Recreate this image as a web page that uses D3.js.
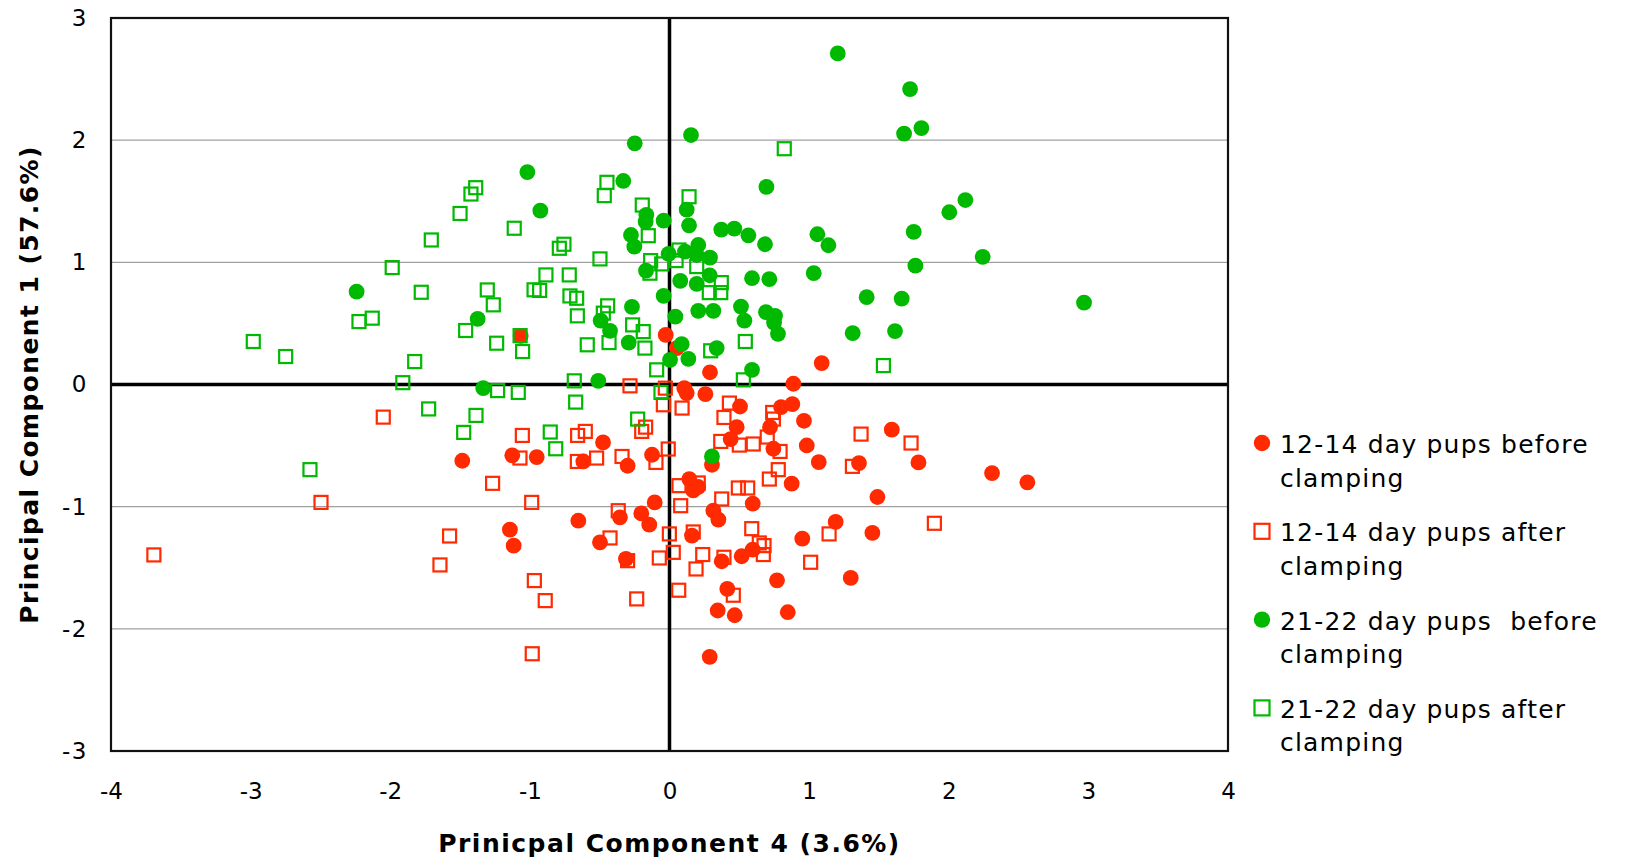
<!DOCTYPE html>
<html>
<head>
<meta charset="utf-8">
<script src="https://cdn.jsdelivr.net/npm/d3@7"></script>
<style>
  html, body { margin: 0; padding: 0; background: #fff; }
  svg { display: block; }
  text { font-family: "DejaVu Sans", Verdana, sans-serif; fill: #000; }
</style>
</head>
<body>
<svg id="chart" width="1625" height="863"></svg>
<script>
// PCA scores: [PC4, PC1] per animal
const pups1214Before = [
  [-1.066, 0.398], [-0.027, 0.406], [0.052, 0.298], [0.29, 0.10], [1.09, 0.175],
  [0.106, -0.03], [0.123, -0.07], [0.257, -0.079], [0.887, 0.006], [0.505, -0.18],
  [0.799, -0.185], [0.88, -0.16], [0.963, -0.297], [0.72, -0.349], [0.481, -0.349],
  [0.438, -0.447], [0.744, -0.526], [0.983, -0.499], [1.069, -0.635], [1.357, -0.643],
  [0.304, -0.657], [-0.125, -0.575], [-0.3, -0.665], [-0.476, -0.474], [-1.126, -0.58],
  [-0.951, -0.594], [-0.617, -0.63], [-1.484, -0.624], [-1.143, -1.188], [-1.116, -1.319],
  [-0.653, -1.115], [-0.498, -1.292], [-0.355, -1.087], [-0.202, -1.055], [-0.145, -1.147],
  [-0.106, -0.965], [-0.312, -1.428], [0.142, -0.774], [0.17, -0.867], [0.206, -0.839],
  [0.314, -1.033], [0.35, -1.106], [0.596, -0.975], [0.875, -0.812], [0.161, -1.237],
  [0.374, -1.447], [0.517, -1.406], [0.596, -1.352], [0.951, -1.262], [1.19, -1.125],
  [1.489, -0.921], [1.453, -1.215], [0.77, -1.603], [1.298, -1.583], [0.414, -1.673],
  [0.345, -1.85], [0.467, -1.889], [0.847, -1.864], [0.288, -2.229], [1.592, -0.37],
  [1.783, -0.638], [2.31, -0.725], [2.563, -0.801]
];
const pups1214After = [
  [-2.05, -0.267], [-1.267, -0.809], [-2.496, -0.965], [-3.693, -1.395], [-1.575, -1.24],
  [-1.644, -1.477], [-0.283, -0.011], [-0.03, -0.03], [-0.044, -0.166], [0.09, -0.193],
  [0.429, -0.152], [0.39, -0.27], [0.739, -0.229], [0.744, -0.283], [0.7, -0.43],
  [0.367, -0.466], [0.5, -0.496], [0.6, -0.487], [0.792, -0.548], [1.372, -0.406],
  [1.31, -0.67], [-0.009, -0.528], [-0.097, -0.638], [-0.34, -0.589], [-0.658, -0.417],
  [-0.603, -0.384], [-1.054, -0.417], [-1.071, -0.602], [-0.66, -0.63], [-0.522, -0.602],
  [-0.199, -0.384], [-0.171, -0.349], [-0.987, -0.965], [-0.426, -1.256], [-0.367, -1.033],
  [-0.3, -1.442], [-0.073, -1.42], [0.027, -1.374], [-0.968, -1.605], [-0.89, -1.769],
  [-0.235, -1.755], [-0.983, -2.204], [0.066, -1.684], [0.068, -0.828], [0.206, -0.806],
  [0.08, -0.992], [0.374, -0.937], [0.493, -0.847], [0.56, -0.847], [0.715, -0.774],
  [0.779, -0.697], [-0.001, -1.223], [0.17, -1.207], [0.238, -1.392], [0.19, -1.51],
  [0.39, -1.414], [0.589, -1.18], [0.643, -1.297], [0.677, -1.319], [0.672, -1.392],
  [1.143, -1.223], [1.011, -1.455], [0.457, -1.725], [1.73, -0.479], [1.897, -1.136]
];
const pups2122Before = [
  [-2.241, 0.76], [-1.374, 0.537], [-1.334, -0.03], [1.205, 2.71], [0.154, 2.042],
  [-0.249, 1.974], [-1.018, 1.739], [-0.331, 1.666], [0.694, 1.617], [-0.925, 1.423],
  [0.123, 1.431], [-0.166, 1.388], [-0.171, 1.333], [-0.042, 1.341], [0.14, 1.303],
  [0.371, 1.268], [0.464, 1.276], [0.565, 1.221], [1.059, 1.23], [1.138, 1.14],
  [0.684, 1.148], [-0.276, 1.224], [-0.252, 1.128], [-0.006, 1.069], [0.111, 1.088],
  [0.206, 1.142], [0.195, 1.06], [0.29, 1.039], [-0.168, 0.932], [0.077, 0.848],
  [0.195, 0.823], [0.288, 0.894], [0.591, 0.87], [0.715, 0.862], [1.033, 0.911],
  [1.412, 0.715], [1.312, 0.42], [-0.269, 0.635], [-0.493, 0.523], [-0.426, 0.439],
  [-0.292, 0.343], [-0.042, 0.725], [0.042, 0.556], [0.206, 0.603], [0.314, 0.603],
  [0.512, 0.638], [0.536, 0.523], [0.691, 0.592], [0.756, 0.562], [0.749, 0.507],
  [0.777, 0.415], [0.338, 0.298], [0.087, 0.33], [0.004, 0.202], [0.135, 0.21],
  [0.591, 0.12], [-0.51, 0.03], [1.723, 2.418], [1.804, 2.099], [1.68, 2.053],
  [2.119, 1.51], [2.004, 1.41], [1.749, 1.249], [2.243, 1.044], [1.761, 0.973],
  [1.663, 0.703], [2.969, 0.67], [1.615, 0.437], [0.304, -0.589]
];
const pups2122After = [
  [-1.388, 1.611], [-1.422, 1.559], [-1.50, 1.40], [-1.706, 1.183], [-1.986, 0.957],
  [-1.778, 0.755], [-1.305, 0.774], [-1.262, 0.652], [-1.46, 0.442], [-1.238, 0.338],
  [-2.129, 0.543], [-2.224, 0.515], [-2.981, 0.352], [-2.749, 0.229], [-1.825, 0.188],
  [-1.91, 0.015], [-1.231, -0.05], [-1.725, -0.2], [-1.386, -0.253], [-1.474, -0.392],
  [-2.575, -0.697], [0.822, 1.93], [-0.448, 1.655], [-0.467, 1.546], [0.14, 1.537],
  [-0.195, 1.469], [-1.112, 1.279], [-0.152, 1.218], [-0.789, 1.115], [-0.756, 1.148],
  [0.068, 1.101], [-0.498, 1.028], [-0.135, 1.014], [-0.056, 0.987], [0.047, 1.014],
  [-0.14, 0.911], [0.195, 0.965], [0.371, 0.834], [0.285, 0.752], [0.367, 0.752],
  [-0.885, 0.897], [-0.718, 0.897], [-0.97, 0.775], [-0.93, 0.77], [-0.713, 0.725],
  [-0.665, 0.706], [-0.66, 0.562], [-0.443, 0.644], [-0.474, 0.584], [-0.264, 0.488],
  [-0.188, 0.433], [-0.433, 0.343], [-0.176, 0.298], [-1.052, 0.27], [-1.07, 0.40],
  [-0.589, 0.325], [0.543, 0.352], [0.295, 0.276], [-0.092, 0.12], [-0.682, 0.03],
  [0.529, 0.038], [1.532, 0.155], [-1.083, -0.065], [-0.672, -0.144], [-0.061, -0.065],
  [-0.854, -0.389], [-0.815, -0.526], [-0.228, -0.283]
];

const xTicks = [-4, -3, -2, -1, 0, 1, 2, 3, 4];
const yTicks = [-3, -2, -1, 0, 1, 2, 3];
const xTitle = "Prinicpal Component 4 (3.6%)";
const yTitle = "Principal Component 1 (57.6%)";

const RED = "#ff2a00";
const GREEN = "#00b900";

const seriesList = [
  { name: "12-14 day pups before", data: pups1214Before, color: RED, shape: "circle" },
  { name: "12-14 day pups after", data: pups1214After, color: RED, shape: "square" },
  { name: "21-22 day pups  before", data: pups2122Before, color: GREEN, shape: "circle" },
  { name: "21-22 day pups after", data: pups2122After, color: GREEN, shape: "square" }
];

const svg = d3.select("#chart");
const plot = { left: 111, right: 1228, top: 18, bottom: 751 };

const x = d3.scaleLinear().domain([-4, 4]).range([plot.left, plot.right]);
const y = d3.scaleLinear().domain([-3, 3]).range([plot.bottom, plot.top]);

// horizontal gridlines
svg.append("g")
  .selectAll("line")
  .data(yTicks.filter(v => v !== 0 && v !== 3 && v !== -3))
  .join("line")
  .attr("x1", plot.left).attr("x2", plot.right)
  .attr("y1", d => y(d)).attr("y2", d => y(d))
  .attr("stroke", "#a0a0a0").attr("stroke-width", 1.2);

// zero lines
svg.append("line")
  .attr("x1", plot.left).attr("x2", plot.right)
  .attr("y1", y(0)).attr("y2", y(0))
  .attr("stroke", "#000").attr("stroke-width", 3.5);
svg.append("line")
  .attr("x1", x(0)).attr("x2", x(0))
  .attr("y1", plot.top).attr("y2", plot.bottom)
  .attr("stroke", "#000").attr("stroke-width", 3.5);

// plot frame
svg.append("rect")
  .attr("x", plot.left).attr("y", plot.top)
  .attr("width", plot.right - plot.left).attr("height", plot.bottom - plot.top)
  .attr("fill", "none").attr("stroke", "#111").attr("stroke-width", 2.2);

// axes (labels only)
const xAxis = svg.append("g")
  .attr("transform", `translate(0,${plot.bottom + 29})`)
  .call(d3.axisBottom(x).tickValues(xTicks).tickSize(0).tickFormat(d3.format("d")));
xAxis.select(".domain").remove();
xAxis.selectAll("text")
  .attr("font-size", 23).attr("font-family", "DejaVu Sans, Verdana, sans-serif")
  .attr("fill", "#000").attr("dy", "0.71em")
  .text(d => String(d).replace("\u2212", "-"));

const yAxis = svg.append("g")
  .attr("transform", `translate(${plot.left - 20},0)`)
  .call(d3.axisLeft(y).tickValues(yTicks).tickSize(0).tickFormat(d3.format("d")));
yAxis.select(".domain").remove();
yAxis.selectAll("text")
  .attr("font-size", 23).attr("font-family", "DejaVu Sans, Verdana, sans-serif")
  .attr("fill", "#000").attr("letter-spacing", 1.5)
  .text(d => String(d).replace("\u2212", "-"));

// axis titles
svg.append("text")
  .attr("x", (plot.left + plot.right) / 2)
  .attr("y", 852)
  .attr("text-anchor", "middle")
  .attr("font-size", 25).attr("font-weight", "bold")
  .attr("letter-spacing", 1.5)
  .text(xTitle);

svg.append("text")
  .attr("transform", `translate(38,${(plot.top + plot.bottom) / 2}) rotate(-90)`)
  .attr("text-anchor", "middle")
  .attr("font-size", 25).attr("font-weight", "bold")
  .attr("letter-spacing", 1.4)
  .text(yTitle);

// markers
const R = 7.9;
const S = 13;
seriesList.forEach(s => {
  const g = svg.append("g");
  if (s.shape === "circle") {
    g.selectAll("circle").data(s.data).join("circle")
      .attr("cx", d => x(d[0])).attr("cy", d => y(d[1]))
      .attr("r", R).attr("fill", s.color);
  } else {
    g.selectAll("rect").data(s.data).join("rect")
      .attr("x", d => x(d[0]) - S / 2).attr("y", d => y(d[1]) - S / 2)
      .attr("width", S).attr("height", S)
      .attr("fill", "none").attr("stroke", s.color).attr("stroke-width", 2.2);
  }
});

// legend
const legend = svg.append("g").attr("transform", "translate(1262,0)");
const legendTop = 453;
const legendStep = 88.3;
seriesList.forEach((s, i) => {
  const base = legendTop + i * legendStep;
  const row = legend.append("g");
  if (s.shape === "circle") {
    row.append("circle").attr("cx", 0).attr("cy", base - 10).attr("r", 8.2).attr("fill", s.color);
  } else {
    row.append("rect").attr("x", -7.5).attr("y", base - 17.5).attr("width", 15).attr("height", 15)
      .attr("fill", "none").attr("stroke", s.color).attr("stroke-width", 2.2);
  }
  const t = row.append("text").attr("x", 18).attr("y", base)
    .attr("font-size", 25).attr("letter-spacing", 1.2).style("white-space", "pre");
  t.append("tspan").attr("x", 18).attr("y", base).text(s.name);
  t.append("tspan").attr("x", 18).attr("y", base + 33.5).text("clamping");
});
</script>
</body>
</html>
